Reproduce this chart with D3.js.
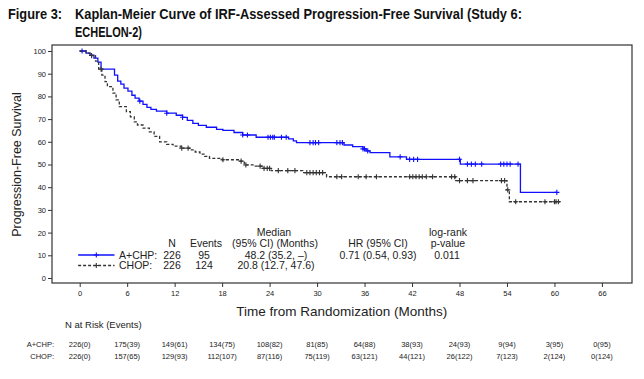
<!DOCTYPE html>
<html><head><meta charset="utf-8">
<script src="https://cdn.jsdelivr.net/npm/d3@7"></script>
<style>
html,body{margin:0;padding:0;background:#fff;}
svg{display:block;font-family:"Liberation Sans",Arial,sans-serif;}
</style></head>
<body><svg id="c" width="644" height="379"></svg>
<script>
// ---- data ----
const xTicks = [0,6,12,18,24,30,36,42,48,54,60,66];
const yTicks = [0,10,20,30,40,50,60,70,80,90,100];
const groups = ["A+CHP","CHOP"];
// Kaplan-Meier steps [month, survival %]
const achpSteps = [[0,100],[0.8,99.1],[1.3,98.2],[1.8,96.9],[2.3,95.1],[2.7,92.0],[4.4,89.4],[4.8,86.7],[5.2,85.4],[5.6,83.6],[6.1,82.3],[6.6,80.5],[7.0,79.2],[7.5,77.9],[8.0,76.5],[8.5,75.2],[9.0,74.3],[9.7,73.5],[11.0,72.6],[12.2,71.7],[13.0,70.8],[13.6,69.4],[14.3,68.1],[15.0,67.2],[16.0,66.4],[17.3,65.5],[18.1,65.0],[19.5,64.1],[20.6,63.0],[22.3,62.0],[26.4,61.3],[27.0,60.4],[27.4,59.6],[33.4,58.6],[34.5,57.9],[35.8,56.9],[36.2,56.0],[36.7,55.2],[39.2,53.4],[41.3,52.3],[48.1,50.2],[55.7,37.7],[60.3,37.7]];
const chopSteps = [[0,100],[0.8,99.1],[1.5,98.0],[2.0,95.5],[2.4,92.0],[2.8,89.4],[3.2,86.5],[3.5,84.3],[4.2,81.4],[4.6,78.5],[5.0,75.5],[5.9,73.3],[6.4,71.0],[6.9,68.8],[7.3,67.4],[8.0,66.0],[8.8,64.4],[9.4,62.4],[10.1,60.0],[11.0,58.9],[11.8,58.1],[12.8,57.2],[13.9,56.4],[14.6,55.5],[15.2,54.6],[15.8,53.6],[16.4,52.7],[18.0,52.1],[20.2,51.5],[20.8,49.8],[22.0,49.3],[23.2,48.3],[24.2,47.3],[28.2,46.4],[31.2,44.6],[47.5,42.9],[54.0,38.8],[54.3,33.6],[60.7,33.6]];
// censored times (months)
const achpCensor = [0.3,7.6,11.0,13.0,20.6,21.2,23.8,24.1,24.4,24.6,25.5,26.1,29.1,29.5,29.8,30.2,32.5,32.9,33.2,35.8,36.0,36.4,40.5,41.7,42.2,42.7,48.0,49.0,49.5,50.0,50.8,53.2,53.6,54.0,54.4,55.4,60.3];
const chopCensor = [1.5,2.7,12.9,13.7,18.1,20.4,21.0,22.8,23.3,23.7,24.0,25.1,26.3,27.2,28.7,29.1,29.5,29.9,30.3,30.7,32.5,33.1,35.2,36.2,37.5,41.7,42.1,42.5,42.9,43.3,43.8,44.6,47.0,47.4,48.0,49.0,49.7,53.3,53.7,54.1,55.1,58.8,60.0,60.2,60.5];
const legendN = [226,226];
const legendEvents = [95,124];
const legendMedian = ["48.2 (35.2, \u2013)","20.8 (12.7, 47.6)"];
const legendHR = "0.71 (0.54, 0.93)";
const legendP = "0.011";
const atRiskACHP = ["226(0)","175(39)","149(61)","134(75)","108(82)","81(85)","64(88)","38(93)","24(93)","9(94)","3(95)","0(95)"];
const atRiskCHOP = ["226(0)","157(65)","129(93)","112(107)","87(116)","75(119)","63(121)","44(121)","26(122)","7(123)","2(124)","0(124)"];

// ---- layout ----
const svg = d3.select("#c");
const x = d3.scaleLinear().domain([-3.5,69.8]).range([52,632]);
const y = d3.scaleLinear().domain([-2.2,102.64]).range([283,45]);
const colors = {"A+CHP":"#1010ff","CHOP":"#333333"};
const txt = "#222";

// title (condensed bold)
function title(xp,yp,t,len){
  svg.append("text").attr("x",xp).attr("y",yp).attr("font-weight","bold").attr("font-size",15)
    .attr("fill","#111").attr("textLength",len).attr("lengthAdjust","spacingAndGlyphs").text(t);
}
title(8,19,"Figure 3:",54);
title(75,19,"Kaplan-Meier Curve of IRF-Assessed Progression-Free Survival (Study 6:",447);
title(75,37,"ECHELON-2)",67);

// frame
const [x0,x1] = x.range(), [y0,y1] = y.range();
svg.append("rect").attr("x",x0).attr("y",y1).attr("width",x1-x0).attr("height",y0-y1)
  .attr("fill","none").attr("stroke","#333").attr("stroke-width",1.2);

// axes
const yAxis = svg.append("g").attr("transform",`translate(${x0},0)`)
  .call(d3.axisLeft(y).tickValues(yTicks).tickSize(4).tickPadding(2));
const xAxis = svg.append("g").attr("transform",`translate(0,${y0})`)
  .call(d3.axisBottom(x).tickValues(xTicks).tickSize(4).tickPadding(4));
[xAxis,yAxis].forEach(g=>{
  g.select(".domain").remove();
  g.selectAll(".tick line").attr("stroke","#333");
  g.selectAll(".tick text").attr("fill",txt).attr("font-size",7.5).attr("font-family","Liberation Sans,Arial,sans-serif");
});

// axis titles
svg.append("text").attr("x",(x(0)+x(66))/2+1).attr("y",316).attr("text-anchor","middle")
  .attr("font-size",13.5).attr("fill",txt).text("Time from Randomization (Months)");
svg.append("text").attr("transform",`translate(21,${(y(0)+y(100))/2}) rotate(-90)`).attr("text-anchor","middle")
  .attr("font-size",12.5).attr("fill",txt).text("Progression-Free Survival");

// KM curves
const line = d3.line().x(d=>x(d[0])).y(d=>y(d[1])).curve(d3.curveStepAfter);
function survAt(steps,t){let v=steps[0][1];for(const s of steps){if(s[0]<=t)v=s[1];else break;}return v;}
function plus(g,cx,cy,col,s=2.6){
  g.append("path").attr("d",`M${cx-s},${cy}H${cx+s}M${cx},${cy-s}V${cy+s}`).attr("stroke",col).attr("stroke-width",1.1).attr("fill","none");
}
const series = [
  {name:"A+CHP",steps:achpSteps,cens:achpCensor,dash:null},
  {name:"CHOP",steps:chopSteps,cens:chopCensor,dash:"3,2"}
];
series.forEach(s=>{
  const g = svg.append("g");
  g.append("path").datum(s.steps).attr("d",line).attr("fill","none")
    .attr("stroke",colors[s.name]).attr("stroke-width",1.3).attr("stroke-dasharray",s.dash);
  s.cens.forEach(t=>plus(g,x(t),y(survAt(s.steps,t)),colors[s.name]));
});

// legend table
const lf = 10.5;
const L = svg.append("g").attr("font-size",lf).attr("fill",txt);
function lt(xp,yp,t,anchor="middle"){L.append("text").attr("x",xp).attr("y",yp).attr("text-anchor",anchor).text(t);}
lt(274,235.5,"Median");
lt(448,235.5,"log-rank");
lt(172,247,"N"); lt(206,247,"Events"); lt(275,247,"(95% CI) (Months)"); lt(378,247,"HR (95% CI)"); lt(448,247,"p-value");
const rowY = [258.5,269];
groups.forEach((gname,i)=>{
  const ly = rowY[i]-3.5;
  L.append("line").attr("x1",x(-0.2)).attr("x2",x(4.4)).attr("y1",ly).attr("y2",ly)
    .attr("stroke",colors[gname]).attr("stroke-width",1.3).attr("stroke-dasharray",i?"3,2":null);
  plus(L,x(2.1),ly,colors[gname]);
  lt(119,rowY[i],gname+":","start");
  lt(172,rowY[i],legendN[i]);
  lt(204,rowY[i],legendEvents[i]);
  lt(276,rowY[i],legendMedian[i]);
});
lt(378,rowY[0],legendHR);
lt(447,rowY[0],legendP);

// at-risk table
svg.append("text").attr("x",65).attr("y",328).attr("font-size",9.5).attr("fill",txt).text("N at Risk (Events)");
[atRiskACHP,atRiskCHOP].forEach((arr,i)=>{
  const yy = 347 + i*11.5;
  svg.append("text").attr("x",54).attr("y",yy).attr("text-anchor","end").attr("font-size",7.5).attr("fill",txt).text(groups[i]+":");
  svg.append("g").selectAll("text").data(arr).join("text")
    .attr("x",(d,j)=>x(xTicks[j])).attr("y",yy).attr("text-anchor","middle")
    .attr("font-size",7.5).attr("fill",txt).text(d=>d);
});
</script></body></html>
